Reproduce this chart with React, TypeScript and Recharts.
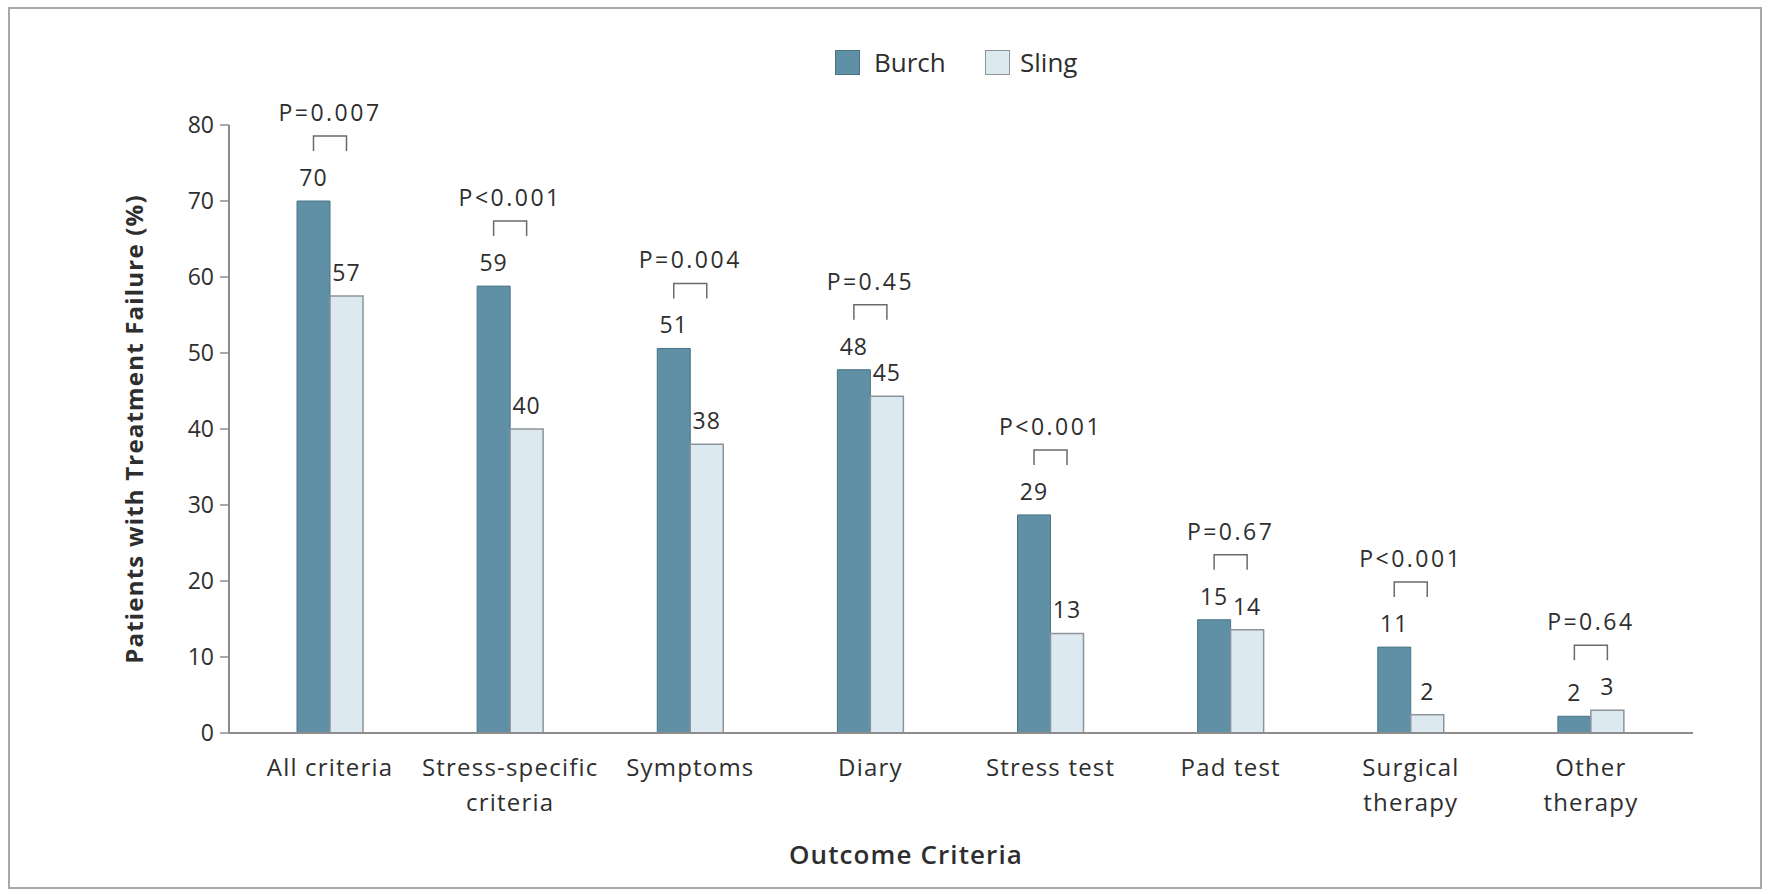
import React from 'react';
import { BarChart, Bar, XAxis, YAxis, Legend, LabelList, Label } from 'recharts';

const categories = [
  'All criteria',
  'Stress-specific\ncriteria',
  'Symptoms',
  'Diary',
  'Stress test',
  'Pad test',
  'Surgical\ntherapy',
  'Other\ntherapy',
];
// bar heights
const burch = [70, 58.8, 50.6, 47.8, 28.7, 14.9, 11.3, 2.2];
const sling = [57.5, 40, 38, 44.3, 13.1, 13.6, 2.4, 3];
// printed labels
const burchLabels = ['70', '59', '51', '48', '29', '15', '11', '2'];
const slingLabels = ['57', '40', '38', '45', '13', '14', '2', '3'];
const pValues = ['P=0.007', 'P<0.001', 'P=0.004', 'P=0.45', 'P<0.001', 'P=0.67', 'P<0.001', 'P=0.64'];
const yTicks = [0, 10, 20, 30, 40, 50, 60, 70, 80];

const FONT = '"Open Sans", "DejaVu Sans", sans-serif';
const BURCH_FILL = '#5f90a6';
const BURCH_STROKE = '#4a7486';
const SLING_FILL = '#dde9f0';
const SLING_STROKE = '#8d9499';
const AXIS = '#8c8c8c';
const TEXT = '#2e2e2e';

const data = categories.map((name, i) => ({ name, burch: burch[i], sling: sling[i] }));

const CategoryTick = (props: any) => {
  const { x, y, payload } = props;
  const lines = String(payload.value).split('\n');
  return (
    <text x={x} y={y} textAnchor="middle" fontSize={24} letterSpacing={1.2} fill={TEXT} fontFamily={FONT}>
      {lines.map((line, k) => (
        <tspan key={k} x={x} dy={k === 0 ? 43 : 35}>
          {line}
        </tspan>
      ))}
    </text>
  );
};

const BurchLabel = (props: any) => {
  const vb = props.viewBox || props;
  const idx = props.index;
  return (
    <text x={vb.x + vb.width / 2} y={vb.y - 15} textAnchor="middle" fontSize={23} letterSpacing={1} fill={TEXT} fontFamily={FONT}>
      {burchLabels[idx]}
    </text>
  );
};

// sling label plus the significance bracket over the pair
const SlingLabel = (props: any) => {
  const vb = props.viewBox || props;
  const idx = props.index;
  const x = vb.x;
  const w = vb.width;
  const zero = vb.y + vb.height;
  const perUnit = vb.height / sling[idx];
  const burchTop = zero - burch[idx] * perUnit;
  const top = Math.min(vb.y, burchTop);
  const left = x - w / 2;
  const right = x + w / 2;
  const bTop = top - 65;
  const bLeg = top - 50;
  return (
    <g>
      <text x={x + w / 2} y={vb.y - 15} textAnchor="middle" fontSize={23} letterSpacing={1} fill={TEXT} fontFamily={FONT}>
        {slingLabels[idx]}
      </text>
      <path
        d={`M${left},${bLeg} L${left},${bTop} L${right},${bTop} L${right},${bLeg}`}
        fill="none"
        stroke="#6a6a6a"
        strokeWidth={1.5}
      />
      <text x={x} y={top - 80} textAnchor="middle" fontSize={23} letterSpacing={2.5} fill={TEXT} fontFamily={FONT}>
        {pValues[idx]}
      </text>
    </g>
  );
};

const renderLegend = () => (
  <div style={{ display: 'flex', alignItems: 'center', fontFamily: FONT, fontSize: 26, color: TEXT, lineHeight: '35px' }}>
    <span style={{ width: 25, height: 25, background: BURCH_FILL, border: `1px solid ${BURCH_STROKE}`, boxSizing: 'border-box' }} />
    <span style={{ marginLeft: 14, width: 111 }}>Burch</span>
    <span style={{ width: 25, height: 25, background: SLING_FILL, border: `1px solid ${SLING_STROKE}`, boxSizing: 'border-box' }} />
    <span style={{ marginLeft: 10 }}>Sling</span>
  </div>
);

export default function App() {
  return (
    <div style={{ position: 'absolute', left: 0, top: 0, width: 1770, height: 894, background: '#fff' }}>
      <div
        style={{
          position: 'absolute',
          left: 8,
          top: 7,
          width: 1754,
          height: 882,
          border: '2px solid #a8a8a8',
          boxSizing: 'border-box',
        }}
      />
      <BarChart
        width={1770}
        height={894}
        data={data}
        margin={{ top: 125, right: 77, bottom: 0, left: 0 }}
        barGap={0}
        barSize={33}
      >
        <Legend
          layout="horizontal"
          verticalAlign="middle"
          align="center"
          content={renderLegend}
          wrapperStyle={{ left: 835, top: 45, width: 'auto' }}
        />
        <XAxis
          dataKey="name"
          height={161}
          padding={{ left: 11, right: 12 }}
          axisLine={{ stroke: AXIS, strokeWidth: 2 }}
          tickLine={false}
          tickSize={0}
          tickMargin={0}
          interval={0}
          tick={<CategoryTick />}
        >
          <Label
            content={() => (
              <text x={906} y={864} textAnchor="middle" fontSize={26} letterSpacing={1.1} fontWeight={600} fill={TEXT} fontFamily={FONT}>
                Outcome Criteria
              </text>
            )}
          />
        </XAxis>
        <YAxis
          width={229}
          domain={[0, 80]}
          ticks={yTicks}
          interval={0}
          axisLine={{ stroke: AXIS, strokeWidth: 2 }}
          tickLine={{ stroke: AXIS, strokeWidth: 1.5 }}
          tickSize={9}
          tickMargin={6}
          tick={{ fontSize: 23, fill: TEXT, fontFamily: FONT }}
        >
          <Label
            content={() => (
              <text
                x={133}
                y={429}
                transform="rotate(-90 133 429)"
                textAnchor="middle"
                dominantBaseline="central"
                fontSize={24}
                letterSpacing={1.2}
                fontWeight={700}
                fill={TEXT}
                fontFamily={FONT}
              >
                Patients with Treatment Failure (%)
              </text>
            )}
          />
        </YAxis>
        <Bar dataKey="burch" fill={BURCH_FILL} stroke={BURCH_STROKE} strokeWidth={1} isAnimationActive={false}>
          <LabelList dataKey="burch" content={<BurchLabel />} />
        </Bar>
        <Bar dataKey="sling" fill={SLING_FILL} stroke={SLING_STROKE} strokeWidth={1.5} isAnimationActive={false}>
          <LabelList dataKey="sling" content={<SlingLabel />} />
        </Bar>
      </BarChart>
    </div>
  );
}
